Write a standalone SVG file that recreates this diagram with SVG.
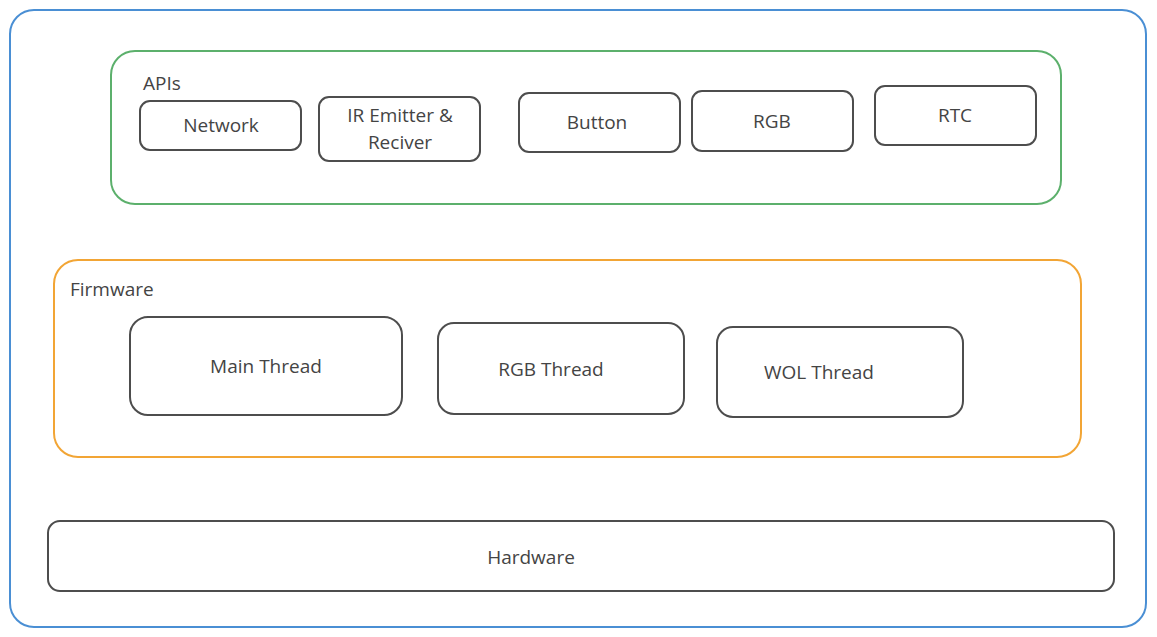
<svg xmlns="http://www.w3.org/2000/svg" width="1157" height="637" viewBox="0 0 1157 637">
<style>
.n{fill:#fff;stroke:#4d4d4d;stroke-width:2}
.t{font-family:"Open Sans",Lato,sans-serif;font-size:19px;fill:#444;text-anchor:middle}
.l{font-family:"Open Sans",Lato,sans-serif;font-size:19px;fill:#444}
</style>
<rect width="1157" height="637" fill="#fff"/>
<g id="system"><rect x="10" y="10" width="1136" height="617" rx="24" fill="#fff" stroke="#4a8fd4" stroke-width="2"/></g>
<g id="apis"><rect x="111" y="51" width="950" height="153" rx="24" fill="#fff" stroke="#5cb06c" stroke-width="2"/><text class="l" x="143" y="90">APIs</text></g>
<g id="network"><rect class="n" x="140" y="101" width="161" height="49" rx="10"/><text class="t" x="221" y="132">Network</text></g>
<g id="ir"><rect class="n" x="319" y="97" width="161" height="64" rx="10"/><text class="t" x="400" y="122">IR Emitter &amp;</text><text class="t" x="400" y="149">Reciver</text></g>
<g id="button"><rect class="n" x="519" y="93" width="161" height="59" rx="10"/><text class="t" x="597" y="129">Button</text></g>
<g id="rgb"><rect class="n" x="692" y="91" width="161" height="60" rx="10"/><text class="t" x="772" y="128">RGB</text></g>
<g id="rtc"><rect class="n" x="875" y="86" width="161" height="59" rx="10"/><text class="t" x="955" y="122">RTC</text></g>
<g id="firmware"><rect x="54" y="260" width="1027" height="197" rx="24" fill="#fff" stroke="#f2a535" stroke-width="2"/><text class="l" x="70" y="296">Firmware</text></g>
<g id="main"><rect class="n" x="130" y="317" width="272" height="98" rx="18"/><text class="t" x="266" y="373">Main Thread</text></g>
<g id="rgbthread"><rect class="n" x="438" y="323" width="246" height="91" rx="16"/><text class="t" x="551" y="376">RGB Thread</text></g>
<g id="wol"><rect class="n" x="717" y="327" width="246" height="90" rx="16"/><text class="t" x="819" y="379">WOL Thread</text></g>
<g id="hardware"><rect class="n" x="48" y="521" width="1066" height="70" rx="12"/><text class="t" x="531" y="564">Hardware</text></g>
<g id="connectors"></g>
</svg>
